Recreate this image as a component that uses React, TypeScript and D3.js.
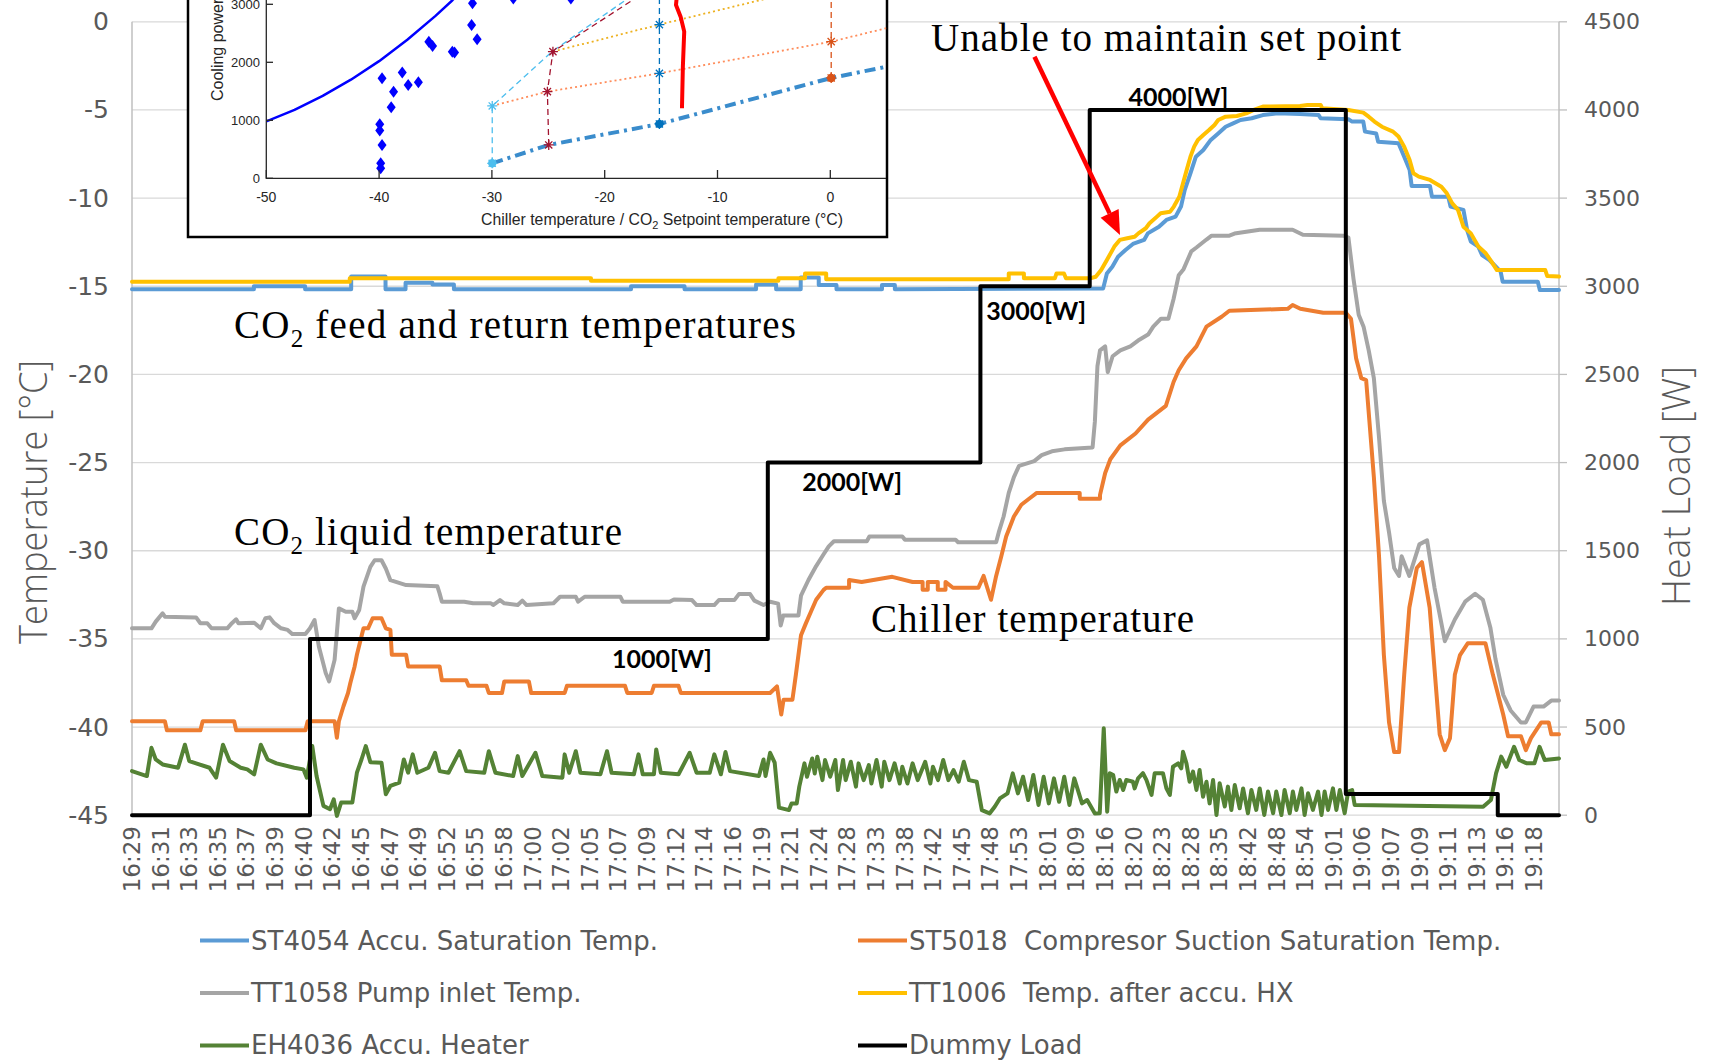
import { useEffect, useRef } from "react";
import * as d3 from "d3";

const W = 1711;
const H = 1063;

// category axis labels (every n-th sample)
const timeLabels = [
  "16:29", "16:31", "16:33", "16:35", "16:37", "16:39", "16:40", "16:42", "16:45", "16:47",
  "16:49", "16:52", "16:55", "16:58", "17:00", "17:02", "17:05", "17:07", "17:09", "17:12",
  "17:14", "17:16", "17:19", "17:21", "17:24", "17:28", "17:33", "17:38", "17:42", "17:45",
  "17:48", "17:53", "18:01", "18:09", "18:16", "18:20", "18:23", "18:28", "18:35", "18:42",
  "18:48", "18:54", "19:01", "19:06", "19:07", "19:09", "19:11", "19:13", "19:16", "19:18",
];
const lastPos = 49.87; // end of category axis, in label units

const tempTicks = [0, -5, -10, -15, -20, -25, -30, -35, -40, -45];
const loadTicks = [0, 500, 1000, 1500, 2000, 2500, 3000, 3500, 4000, 4500];

// [position on time axis (label units), value]
const accuSatTemp = [
  [0, -15.17], [4.26, -15.17], [4.26, -15.0], [6.05, -15.0], [6.05, -15.17], [7.66, -15.17], [7.66, -14.45],
  [8.86, -14.45], [8.86, -15.17], [9.56, -15.17], [9.56, -14.8], [10.5, -14.8], [10.5, -14.9], [11.25, -14.9],
  [11.25, -15.17], [17.44, -15.17], [17.44, -15.0], [19.31, -15.0], [19.31, -15.17], [21.81, -15.17],
  [21.81, -14.9], [22.51, -14.9], [22.51, -15.17], [23.37, -15.17], [23.37, -14.5], [24.0, -14.5],
  [24.0, -14.93], [24.62, -14.93], [24.62, -15.17], [26.21, -15.17], [26.21, -14.93], [26.66, -14.93],
  [26.66, -15.17], [33.94, -15.12], [34.07, -14.27], [34.26, -13.89], [34.46, -13.32], [34.72, -12.94],
  [34.98, -12.6], [35.37, -12.37], [35.5, -12.0], [35.89, -11.62], [36.15, -11.24], [36.47, -11.05],
  [36.66, -10.48], [36.79, -9.54], [36.99, -8.59], [37.18, -7.65], [37.44, -7.27], [37.7, -6.7],
  [37.96, -6.33], [38.22, -5.95], [38.48, -5.76], [38.74, -5.57], [39.13, -5.47], [39.52, -5.29],
  [40.04, -5.19], [40.82, -5.23], [41.47, -5.29], [41.54, -5.47], [42.51, -5.53], [42.64, -5.66],
  [43.03, -5.66], [43.09, -6.23], [43.48, -6.33], [43.55, -6.8], [44.26, -6.89], [44.46, -7.65],
  [44.65, -8.4], [44.72, -9.31], [45.36, -9.31], [45.43, -9.92], [46.0, -9.92], [46.08, -10.48],
  [46.53, -10.67], [46.66, -11.81], [46.79, -12.47], [47.05, -12.75], [47.18, -13.23], [47.44, -13.51],
  [47.83, -14.17], [47.9, -14.74], [49.13, -14.74], [49.2, -15.21], [49.87, -15.21],
];

const suctionSatTemp = [
  [0, -39.67], [1.15, -39.67], [1.22, -40.18], [2.39, -40.18], [2.47, -39.67], [3.57, -39.67], [3.64, -40.18],
  [6.06, -40.18], [6.14, -39.67], [7.08, -39.67], [7.16, -40.61], [7.23, -39.67], [7.39, -38.82], [7.55, -38.07],
  [7.63, -37.5], [7.78, -36.56], [7.86, -35.9], [8.09, -34.4], [8.25, -34.4], [8.41, -33.83], [8.72, -33.83],
  [8.87, -34.4], [9.03, -34.49], [9.08, -35.9], [9.58, -35.9], [9.65, -36.56], [10.75, -36.56], [10.83, -37.35],
  [11.68, -37.35], [11.76, -37.66], [12.39, -37.66], [12.47, -38.07], [12.93, -38.07], [13.01, -37.41],
  [13.87, -37.41], [13.95, -38.07], [15.12, -38.07], [15.2, -37.66], [17.23, -37.66], [17.31, -38.07],
  [18.16, -38.07], [18.24, -37.66], [19.1, -37.66], [19.18, -38.07], [22.3, -38.07], [22.54, -37.69],
  [22.61, -38.45], [22.69, -39.29], [22.77, -38.45], [23.08, -38.45], [23.2, -37.04], [23.38, -34.8],
  [23.55, -34.12], [23.73, -33.45], [23.91, -32.78], [24.17, -32.22], [24.26, -32.1], [25.06, -32.1],
  [25.06, -31.66], [25.5, -31.77], [26.57, -31.48], [27.28, -31.77], [27.63, -31.77], [27.63, -32.22],
  [27.81, -32.22], [27.81, -31.77], [28.16, -31.77], [28.16, -32.22], [28.43, -32.22], [28.43, -31.77],
  [28.69, -32.1], [29.58, -32.1], [29.76, -31.43], [30.02, -32.78], [30.2, -31.43], [30.38, -30.31],
  [30.55, -29.19], [30.82, -28.06], [31.08, -27.39], [31.35, -27.05], [31.62, -26.72], [33.12, -26.72],
  [33.12, -27.05], [33.83, -27.05], [33.83, -26.83], [34.01, -25.59], [34.19, -24.81], [34.54, -24.02],
  [35.07, -23.35], [35.51, -22.56], [36.13, -21.78], [36.4, -20.43], [36.58, -19.76], [36.84, -19.09],
  [37.2, -18.41], [37.55, -17.29], [38.08, -16.73], [38.35, -16.39], [40.39, -16.28], [40.56, -16.06],
  [40.83, -16.28], [41.63, -16.5], [42.42, -16.5], [42.6, -16.84], [42.78, -19.09], [42.96, -20.21],
  [43.13, -20.32], [43.4, -25.82], [43.58, -30.31], [43.75, -35.92], [43.93, -39.74], [44.11, -41.42],
  [44.28, -41.42], [44.46, -37.04], [44.64, -33.23], [44.9, -30.98], [45.08, -30.65], [45.35, -33.23],
  [45.7, -40.41], [45.88, -41.31], [46.06, -40.63], [46.23, -37.04], [46.41, -35.92], [46.68, -35.25],
  [47.3, -35.25], [47.56, -37.04], [47.92, -39.29], [48.09, -40.52], [48.54, -40.52], [48.71, -41.31],
  [48.89, -40.63], [49.25, -39.74], [49.51, -39.74], [49.6, -40.41], [49.87, -40.41],
];

const pumpInletTemp = [
  [0, -34.4], [0.68, -34.4], [0.83, -34.02], [1.07, -33.55], [1.15, -33.74], [2.24, -33.78], [2.39, -34.11],
  [2.63, -34.11], [2.78, -34.4], [3.33, -34.4], [3.49, -34.11], [3.64, -33.89], [3.72, -34.11], [4.27, -34.08],
  [4.5, -34.4], [4.66, -33.83], [4.81, -33.78], [4.97, -34.11], [5.21, -34.4], [5.44, -34.49], [5.6, -34.72],
  [6.06, -34.72], [6.22, -34.4], [6.38, -33.93], [6.53, -35.43], [6.77, -36.94], [6.89, -37.41], [7.08, -36.19],
  [7.23, -33.27], [7.47, -33.46], [7.7, -33.46], [7.78, -33.83], [7.94, -33.36], [8.09, -32.04], [8.33, -30.91],
  [8.48, -30.54], [8.72, -30.54], [8.87, -31.01], [9.03, -31.67], [9.58, -31.95], [10.67, -32.01],
  [10.75, -32.42], [10.83, -32.89], [11.61, -32.89], [11.92, -32.98], [12.54, -32.98], [12.62, -33.08],
  [12.86, -32.8], [13.01, -32.98], [13.48, -33.08], [13.64, -32.83], [13.79, -33.08], [14.73, -32.98],
  [14.96, -32.61], [15.51, -32.61], [15.59, -32.89], [15.82, -32.61], [17.07, -32.61], [17.15, -32.89],
  [18.79, -32.89], [18.94, -32.76], [19.57, -32.8], [19.73, -33.08], [20.35, -33.08], [20.51, -32.8],
  [21.05, -32.8], [21.21, -32.46], [21.6, -32.46], [21.75, -32.83], [22.07, -33.08], [22.3, -32.89],
  [22.58, -33.0], [22.67, -34.24], [22.76, -33.68], [23.29, -33.68], [23.38, -32.55], [23.64, -31.66],
  [23.91, -30.87], [24.17, -30.2], [24.35, -29.75], [24.53, -29.46], [25.68, -29.46], [25.77, -29.19],
  [26.92, -29.19], [27.01, -29.37], [28.78, -29.37], [28.87, -29.52], [30.2, -29.52], [30.29, -28.96],
  [30.46, -28.06], [30.64, -26.72], [30.82, -25.82], [31.0, -25.19], [31.53, -24.92], [31.79, -24.58],
  [32.15, -24.36], [32.59, -24.25], [33.57, -24.14], [33.65, -22.68], [33.74, -19.53], [33.83, -18.64],
  [34.01, -18.41], [34.1, -19.87], [34.27, -18.97], [34.54, -18.64], [34.89, -18.41], [35.16, -18.08],
  [35.51, -17.74], [35.69, -17.29], [35.96, -16.84], [36.22, -16.84], [36.4, -15.72], [36.58, -14.37],
  [36.75, -14.03], [37.02, -13.02], [37.2, -12.8], [37.55, -12.35], [37.73, -12.13], [38.35, -12.13],
  [38.53, -12.01], [39.41, -11.79], [40.56, -11.79], [40.92, -12.08], [42.34, -12.13], [42.51, -12.24],
  [42.69, -14.6], [42.87, -16.62], [43.04, -17.29], [43.22, -18.64], [43.4, -20.21], [43.58, -23.57],
  [43.75, -27.17], [43.93, -28.96], [44.11, -30.98], [44.28, -31.43], [44.37, -30.31], [44.64, -31.43],
  [44.99, -29.64], [45.26, -29.41], [45.52, -32.1], [45.88, -35.13], [46.23, -33.9], [46.59, -32.89],
  [46.94, -32.44], [47.21, -32.78], [47.47, -34.35], [47.65, -36.14], [47.92, -38.17], [48.18, -39.06],
  [48.54, -39.74], [48.71, -39.74], [48.98, -38.84], [49.33, -38.84], [49.6, -38.5], [49.87, -38.5],
];

const afterHxTemp = [
  [0, -14.74], [7.61, -14.74], [7.61, -14.55], [16.04, -14.55], [16.04, -14.68], [22.59, -14.68], [22.59, -14.55],
  [23.52, -14.55], [23.52, -14.27], [24.26, -14.27], [24.26, -14.6], [30.64, -14.6], [30.64, -14.27],
  [31.17, -14.27], [31.17, -14.55], [32.25, -14.55], [32.31, -14.27], [32.57, -14.27], [32.64, -14.55],
  [33.48, -14.55], [33.68, -14.46], [33.87, -14.08], [34.07, -13.51], [34.33, -12.75], [34.52, -12.37],
  [34.78, -12.28], [35.04, -12.19], [35.17, -12.0], [35.43, -11.71], [35.56, -11.43], [35.82, -11.05],
  [35.95, -10.86], [36.28, -10.77], [36.41, -10.48], [36.6, -9.92], [36.73, -9.16], [36.86, -8.4],
  [36.99, -7.65], [37.12, -7.08], [37.25, -6.7], [37.44, -6.42], [37.64, -6.14], [37.83, -5.85],
  [37.96, -5.57], [38.22, -5.38], [38.61, -5.34], [38.94, -5.19], [39.2, -5.0], [39.52, -4.81],
  [40.82, -4.78], [41.08, -4.72], [41.54, -4.72], [41.6, -4.91], [42.51, -5.0], [43.03, -5.15],
  [43.22, -5.38], [43.42, -5.66], [43.68, -5.95], [44.07, -6.23], [44.26, -6.51], [44.46, -7.08],
  [44.65, -7.84], [44.78, -8.59], [44.97, -8.78], [45.36, -8.97], [45.76, -9.35], [45.95, -9.73],
  [46.14, -10.3], [46.34, -10.67], [46.53, -11.62], [46.79, -12.0], [47.05, -12.75], [47.31, -13.13],
  [47.51, -13.6], [47.7, -14.08], [49.39, -14.08], [49.46, -14.42], [49.87, -14.45],
];

const accuHeater = [
  [0, -42.5], [0.52, -42.78], [0.68, -41.18], [0.83, -41.84], [1.07, -42.12], [1.61, -42.31], [1.85, -41.0],
  [2.0, -41.93], [2.24, -42.06], [2.71, -42.31], [2.94, -42.87], [3.18, -41.0], [3.41, -41.93], [3.8, -42.31],
  [4.03, -42.4], [4.27, -42.68], [4.5, -41.0], [4.74, -41.84], [5.05, -42.06], [5.67, -42.31], [5.99, -42.4],
  [6.11, -42.87], [6.3, -41.08], [6.45, -42.78], [6.69, -44.47], [6.92, -44.66], [7.05, -44.1], [7.16, -45.04],
  [7.31, -44.28], [7.7, -44.28], [7.86, -42.59], [8.02, -41.84], [8.17, -41.08], [8.33, -41.99], [8.72, -42.02],
  [8.87, -43.81], [9.03, -43.34], [9.34, -43.15], [9.5, -41.84], [9.65, -42.59], [9.81, -41.55], [9.97, -42.59],
  [10.36, -42.31], [10.59, -41.46], [10.75, -42.5], [11.06, -42.59], [11.45, -41.37], [11.68, -42.5],
  [12.31, -42.59], [12.47, -41.37], [12.7, -42.59], [13.32, -42.78], [13.48, -41.65], [13.64, -42.78],
  [14.1, -41.46], [14.34, -42.78], [15.04, -42.87], [15.12, -41.55], [15.28, -42.59], [15.51, -41.37],
  [15.67, -42.59], [16.37, -42.68], [16.6, -41.37], [16.76, -42.59], [17.54, -42.68], [17.7, -41.55],
  [17.85, -42.68], [18.24, -42.68], [18.32, -41.27], [18.48, -42.59], [19.1, -42.68], [19.49, -41.46],
  [19.73, -42.59], [20.19, -42.59], [20.35, -41.55], [20.58, -42.68], [20.74, -41.42], [20.9, -42.5],
  [21.91, -42.78], [22.07, -41.84], [22.14, -42.78], [22.3, -41.46], [22.46, -42.02], [22.61, -44.57],
  [22.96, -44.71], [23.05, -44.33], [23.23, -44.33], [23.32, -43.38], [23.5, -42.06], [23.59, -42.82],
  [23.77, -41.78], [23.86, -42.63], [23.95, -41.68], [24.13, -43.01], [24.22, -41.87], [24.4, -42.82],
  [24.58, -41.87], [24.67, -43.57], [24.85, -41.87], [24.94, -43.01], [25.12, -41.97], [25.3, -43.38],
  [25.39, -42.06], [25.57, -43.01], [25.75, -42.16], [25.84, -43.2], [26.02, -41.87], [26.2, -43.38],
  [26.29, -41.97], [26.47, -43.01], [26.65, -42.06], [26.83, -43.2], [26.92, -42.25], [27.1, -43.2],
  [27.28, -42.06], [27.46, -43.01], [27.72, -41.97], [27.9, -43.2], [27.99, -42.25], [28.17, -43.01],
  [28.35, -41.87], [28.53, -43.01], [28.71, -42.44], [28.89, -43.1], [29.07, -41.97], [29.25, -43.01],
  [29.52, -43.1], [29.7, -44.71], [29.97, -44.9], [30.15, -44.52], [30.33, -44.05], [30.6, -43.76],
  [30.78, -42.63], [30.96, -43.76], [31.14, -42.82], [31.32, -44.14], [31.5, -42.72], [31.68, -44.42],
  [31.86, -42.82], [32.04, -44.33], [32.22, -42.91], [32.4, -44.24], [32.58, -42.82], [32.76, -44.42],
  [32.93, -42.91], [33.2, -44.33], [33.38, -44.14], [33.65, -44.9], [33.82, -44.89], [33.96, -40.07],
  [34.08, -44.8], [34.17, -42.62], [34.29, -42.72], [34.4, -43.66], [34.52, -43.0], [34.64, -43.57],
  [34.75, -43.0], [34.98, -43.1], [35.04, -43.48], [35.16, -42.91], [35.33, -42.62], [35.45, -43.0],
  [35.63, -43.85], [35.74, -42.62], [36.03, -42.62], [36.15, -43.48], [36.27, -43.85], [36.38, -42.25],
  [36.56, -42.06], [36.67, -42.34], [36.73, -41.4], [36.85, -42.06], [36.96, -43.1], [37.08, -42.53],
  [37.2, -43.57], [37.31, -42.44], [37.43, -43.95], [37.55, -43.1], [37.66, -44.33], [37.78, -43.0],
  [37.9, -44.99], [38.01, -43.19], [38.19, -44.51], [38.3, -43.38], [38.42, -44.7], [38.54, -43.29],
  [38.71, -44.61], [38.83, -43.48], [39.0, -44.89], [39.12, -43.57], [39.29, -44.7], [39.41, -43.48],
  [39.57, -44.99], [39.7, -43.66], [39.88, -44.89], [39.99, -43.66], [40.17, -44.99], [40.28, -43.57],
  [40.46, -44.89], [40.57, -43.66], [40.69, -44.7], [40.87, -43.48], [40.98, -44.99], [41.1, -43.76],
  [41.27, -44.7], [41.45, -43.66], [41.57, -44.99], [41.68, -43.66], [41.8, -44.7], [41.97, -43.48],
  [42.09, -44.7], [42.21, -43.57], [42.38, -44.89], [42.5, -43.66], [42.64, -43.57], [42.73, -44.42],
  [47.22, -44.52], [47.49, -44.14], [47.67, -42.63], [47.85, -41.68], [48.03, -42.25], [48.3, -41.12],
  [48.48, -41.87], [48.75, -42.06], [49.01, -42.06], [49.19, -41.12], [49.37, -41.87], [49.87, -41.78],
];

// secondary axis, W
const dummyLoad = [
  [0, 0], [6.22, 0], [6.22, 1000], [22.22, 1000], [22.22, 2000], [29.65, 2000], [29.65, 3000],
  [33.47, 3000], [33.47, 4000], [42.42, 4000], [42.42, 120], [47.73, 120], [47.73, 0], [49.87, 0],
];

const loadLabels = [
  { text: "1000[W]", pos: 18.52, load: 892 },
  { text: "2000[W]", pos: 25.17, load: 1896 },
  { text: "3000[W]", pos: 31.6, load: 2866 },
  { text: "4000[W]", pos: 36.57, load: 4079 },
];

const legendItems = [
  { label: "ST4054 Accu. Saturation Temp.", color: "#5b9bd5" },
  { label: "ST5018  Compresor Suction Saturation Temp.", color: "#ed7d31" },
  { label: "TT1058 Pump inlet Temp.", color: "#a5a5a5" },
  { label: "TT1006  Temp. after accu. HX", color: "#ffc000" },
  { label: "EH4036 Accu. Heater", color: "#548235" },
  { label: "Dummy Load", color: "#000000" },
];

// inset: cooling power (W) vs chiller / setpoint temperature (°C)
const insetXTicks = [-50, -40, -30, -20, -10, 0];
const insetYTicks = [0, 1000, 2000, 3000];
const capacityCurve = [[-50, 980], [-47.5, 1180], [-45, 1420], [-42.5, 1700], [-40, 2020], [-37.5, 2390], [-35, 2800], [-33.5, 3070], [-32, 3380], [-31, 3600]];
const measuredPoints = [
  [-39.86, 172], [-39.86, 259], [-39.74, 575], [-39.94, 822], [-39.94, 931], [-39.74, 1724], [-38.93, 1224],
  [-38.72, 1494], [-37.95, 1822], [-37.42, 1609], [-36.52, 1655], [-35.59, 2356], [-35.26, 2282], [-33.51, 2184],
  [-33.31, 2167], [-31.8, 2644], [-31.31, 2397], [-31.72, 3017], [-31.5, 3260], [-28.1, 3100], [-23.0, 3100],
];
const setpoint30 = [[-29.97, 259], [-29.97, 1247], [-24.67, 2184], [-17.0, 3230]];
const setpoint25 = [[-24.96, 575], [-25.08, 1494], [-24.59, 2184], [-16.5, 3200]];
const setpoint15 = [[-15.15, 937], [-15.15, 3300]];
const setpoint0 = [[0.08, 1730], [0.08, 3300]];
const load3kW = [[-24.59, 2184], [-15.15, 2650], [-3.5, 3200]];
const load2kW = [[-29.97, 1247], [-25.08, 1494], [-15.15, 1810], [0.08, 2356], [5, 2590]];
const load1kW = [[-29.97, 259], [-24.96, 575], [-15.15, 937], [0.08, 1730], [5, 1925]];
const limitLine = [[-13.15, 1207], [-13.07, 1925], [-12.95, 2529], [-13.27, 2787], [-13.68, 2989], [-13.6, 3150]];
const starsLightBlue = [[-29.97, 1247], [-29.97, 259]];
const starsDarkRed = [[-24.96, 575], [-25.08, 1494], [-24.59, 2184]];
const starsBlue = [[-15.15, 937], [-15.15, 1810], [-15.15, 2650]];
const starsOrange = [[0.08, 1730], [0.08, 2356]];
const dotsInset = [[-29.97, 259, "#4dbeee"], [-15.15, 937, "#0072bd"], [0.08, 1730, "#d95319"]];

const App = () => {
  const ref = useRef(null);

  useEffect(() => {
    const svg = d3.select(ref.current);
    svg.selectAll("*").remove();

    const x = d3.scaleLinear().domain([0, lastPos]).range([132, 1559]);
    const yT = d3.scaleLinear().domain([-45, 0]).range([815.2, 21.8]);
    const yW = d3.scaleLinear().domain([0, 4500]).range([815.2, 21.8]);

    svg.append("rect").attr("width", W).attr("height", H).attr("fill", "#fff");

    // gridlines
    svg.append("g")
      .selectAll("line")
      .data(tempTicks)
      .join("line")
      .attr("x1", 132).attr("x2", 1559)
      .attr("y1", (d) => yT(d)).attr("y2", (d) => yT(d))
      .attr("stroke", "#d9d9d9").attr("stroke-width", 1.3);

    svg.append("line").attr("x1", 132).attr("x2", 132).attr("y1", 21.8).attr("y2", 815.2)
      .attr("stroke", "#bfbfbf").attr("stroke-width", 1.5);
    svg.append("line").attr("x1", 1559).attr("x2", 1559).attr("y1", 21.8).attr("y2", 815.2)
      .attr("stroke", "#bfbfbf").attr("stroke-width", 1.5);
    svg.append("g").selectAll("line").data(loadTicks).join("line")
      .attr("x1", 1559).attr("x2", 1567).attr("y1", (d) => yW(d)).attr("y2", (d) => yW(d))
      .attr("stroke", "#bfbfbf").attr("stroke-width", 1.3);

    const tickFont = "'DejaVu Sans', Verdana, sans-serif";
    svg.append("g").selectAll("text").data(tempTicks).join("text")
      .attr("x", 109).attr("y", (d) => yT(d))
      .attr("text-anchor", "end").attr("dominant-baseline", "central")
      .attr("font-family", tickFont).attr("font-size", 25).attr("fill", "#595959")
      .text((d) => d);
    svg.append("g").selectAll("text").data(loadTicks).join("text")
      .attr("x", 1584).attr("y", (d) => yW(d))
      .attr("dominant-baseline", "central")
      .attr("font-family", tickFont).attr("font-size", 22).attr("fill", "#595959")
      .text((d) => d);
    svg.append("g").selectAll("text").data(timeLabels).join("text")
      .attr("transform", (d, i) => `translate(${x(i)},826) rotate(-90)`)
      .attr("text-anchor", "end").attr("dominant-baseline", "central")
      .attr("font-family", tickFont).attr("font-size", 23).attr("fill", "#595959")
      .text((d) => d);

    const titleFont = "'Open Sans', sans-serif";
    svg.append("text")
      .attr("transform", "translate(47,502) rotate(-90)")
      .attr("text-anchor", "middle")
      .attr("font-family", titleFont).attr("font-weight", 300).attr("font-size", 38).attr("fill", "#595959")
      .attr("textLength", 284).attr("lengthAdjust", "spacingAndGlyphs")
      .text("Temperature [°C]");
    svg.append("text")
      .attr("transform", "translate(1690,486) rotate(-90)")
      .attr("text-anchor", "middle")
      .attr("font-family", titleFont).attr("font-weight", 300).attr("font-size", 38).attr("fill", "#595959")
      .attr("textLength", 240).attr("lengthAdjust", "spacingAndGlyphs")
      .text("Heat Load [W]");

    // ---- inset figure ----
    const xi = d3.scaleLinear().domain([-50, 5]).range([266.3, 886.7]);
    const yi = d3.scaleLinear().domain([0, 3000]).range([178.3, 4.3]);
    const inset = svg.append("g");
    inset.append("rect").attr("x", 188).attr("y", -20).attr("width", 699).attr("height", 257)
      .attr("fill", "#fff").attr("stroke", "#000").attr("stroke-width", 2.5);
    svg.append("clipPath").attr("id", "insetClip").append("rect")
      .attr("x", 266.3).attr("y", -20).attr("width", 620).attr("height", 198.3);
    const plotI = inset.append("g").attr("clip-path", "url(#insetClip)");
    const lineI = d3.line().x((d) => xi(d[0])).y((d) => yi(d[1]));
    const insetPath = (data, color, width, dash) =>
      plotI.append("path").attr("d", lineI(data)).attr("fill", "none")
        .attr("stroke", color).attr("stroke-width", width)
        .attr("stroke-dasharray", dash).attr("stroke-linejoin", "round");

    insetPath(capacityCurve, "#0000ff", 2.5, null);
    insetPath(setpoint30, "#4dbeee", 1.3, "6,4");
    insetPath(setpoint25, "#a2142f", 1.3, "6,4");
    insetPath(setpoint15, "#0072bd", 1.3, "6,4");
    insetPath(setpoint0, "#d95319", 1.3, "6,4");
    insetPath(load3kW, "#edb120", 1.8, "2,3");
    insetPath(load2kW, "#ff8c5a", 1.8, "2,3");
    insetPath(load1kW, "#3a8ccc", 4, "11,5,3,5");
    insetPath(limitLine, "#ff0000", 4, null);

    plotI.append("g").selectAll("path").data(measuredPoints).join("path")
      .attr("transform", (d) => `translate(${xi(d[0])},${yi(d[1])})`)
      .attr("d", "M0,-6L4.5,0L0,6L-4.5,0Z").attr("fill", "#0000ff");

    const star = "M0,-5V5M-5,0H5M-3.6,-3.6L3.6,3.6M-3.6,3.6L3.6,-3.6";
    plotI.append("g").selectAll("circle").data(dotsInset).join("circle")
      .attr("cx", (d) => xi(d[0])).attr("cy", (d) => yi(d[1])).attr("r", 4.2)
      .attr("fill", (d) => d[2]);
    const stars = (data, color) =>
      plotI.append("g").selectAll("path").data(data).join("path")
        .attr("transform", (d) => `translate(${xi(d[0])},${yi(d[1])})`)
        .attr("d", star).attr("stroke", color).attr("stroke-width", 1.3).attr("fill", "none");
    stars(starsLightBlue, "#4dbeee");
    stars(starsDarkRed, "#a2142f");
    stars(starsBlue, "#0072bd");
    stars(starsOrange, "#d95319");

    inset.append("path").attr("d", `M266.3,-20V178.3H886`).attr("fill", "none")
      .attr("stroke", "#262626").attr("stroke-width", 1.3);
    inset.append("g").selectAll("line").data(insetXTicks).join("line")
      .attr("x1", (d) => xi(d)).attr("x2", (d) => xi(d)).attr("y1", 178.3).attr("y2", 170)
      .attr("stroke", "#262626").attr("stroke-width", 1.3);
    inset.append("g").selectAll("line").data(insetYTicks).join("line")
      .attr("x1", 266.3).attr("x2", 273).attr("y1", (d) => yi(d)).attr("y2", (d) => yi(d))
      .attr("stroke", "#262626").attr("stroke-width", 1.3);
    const insetFont = "'Liberation Sans', Arial, sans-serif";
    inset.append("g").selectAll("text").data(insetXTicks).join("text")
      .attr("x", (d) => xi(d)).attr("y", 202).attr("text-anchor", "middle")
      .attr("font-family", insetFont).attr("font-size", 14).attr("fill", "#262626")
      .text((d) => d);
    inset.append("g").selectAll("text").data(insetYTicks).join("text")
      .attr("x", 260).attr("y", (d) => yi(d)).attr("text-anchor", "end").attr("dominant-baseline", "central")
      .attr("font-family", insetFont).attr("font-size", 13).attr("fill", "#262626")
      .text((d) => d);
    const xt = inset.append("text").attr("x", 662).attr("y", 225).attr("text-anchor", "middle")
      .attr("font-family", insetFont).attr("font-size", 15.8).attr("fill", "#262626");
    xt.append("tspan").text("Chiller temperature / CO");
    xt.append("tspan").attr("font-size", 11).attr("dy", 4).text("2");
    xt.append("tspan").attr("dy", -4).text(" Setpoint temperature (°C)");
    inset.append("text").attr("transform", "translate(223,101) rotate(-90)")
      .attr("font-family", insetFont).attr("font-size", 16).attr("fill", "#262626")
      .text("Cooling power (W)");

    // ---- series ----
    const lineT = d3.line().x((d) => x(d[0])).y((d) => yT(d[1]));
    const lineW = d3.line().x((d) => x(d[0])).y((d) => yW(d[1]));
    const series = [
      [accuSatTemp, "#5b9bd5", lineT],
      [suctionSatTemp, "#ed7d31", lineT],
      [pumpInletTemp, "#a5a5a5", lineT],
      [afterHxTemp, "#ffc000", lineT],
      [accuHeater, "#548235", lineT],
      [dummyLoad, "#000000", lineW],
    ];
    series.forEach(([data, color, gen]) => {
      svg.append("path").attr("d", gen(data)).attr("fill", "none")
        .attr("stroke", color).attr("stroke-width", 4)
        .attr("stroke-linejoin", "round").attr("stroke-linecap", "round");
    });

    // ---- annotations ----
    svg.append("g").selectAll("text").data(loadLabels).join("text")
      .attr("x", (d) => x(d.pos)).attr("y", (d) => yW(d.load))
      .attr("text-anchor", "middle").attr("dominant-baseline", "central")
      .attr("font-family", "Lato, 'Open Sans', sans-serif").attr("font-weight", 700)
      .attr("font-size", 25).attr("fill", "#000")
      .text((d) => d.text);

    const serif = "'Liberation Serif', 'Times New Roman', serif";
    const co2Label = (px, py, rest, len) => {
      const t = svg.append("text").attr("x", px).attr("y", py)
        .attr("font-family", serif).attr("font-size", 39).attr("fill", "#000");
      t.append("tspan").text("CO");
      t.append("tspan").attr("font-size", 25).attr("dy", 9).text("2");
      t.append("tspan").attr("dy", -9).text(rest);
      t.attr("textLength", len).attr("lengthAdjust", "spacing");
    };
    co2Label(234, 338, " feed and return temperatures", 562);
    co2Label(234, 545, " liquid temperature", 388);
    svg.append("text").attr("x", 871).attr("y", 632).attr("font-family", serif).attr("font-size", 39)
      .attr("textLength", 323).attr("lengthAdjust", "spacing").text("Chiller temperature");
    svg.append("text").attr("x", 931).attr("y", 51).attr("font-family", serif).attr("font-size", 39)
      .attr("textLength", 470).attr("lengthAdjust", "spacing").text("Unable to maintain set point");

    const a0 = [1034.5, 56.7];
    const a1 = [1120, 235];
    const len = Math.hypot(a1[0] - a0[0], a1[1] - a0[1]);
    const ux = (a1[0] - a0[0]) / len, uy = (a1[1] - a0[1]) / len;
    const bx = a1[0] - ux * 24, by = a1[1] - uy * 24;
    svg.append("line").attr("x1", a0[0]).attr("y1", a0[1]).attr("x2", bx).attr("y2", by)
      .attr("stroke", "#ff0000").attr("stroke-width", 4.5);
    svg.append("path")
      .attr("d", `M${a1[0]},${a1[1]}L${bx - uy * 10},${by + ux * 10}L${bx + uy * 10},${by - ux * 10}Z`)
      .attr("fill", "#ff0000");

    // ---- legend ----
    const legend = svg.append("g").selectAll("g").data(legendItems).join("g")
      .attr("transform", (d, i) => `translate(${i % 2 === 0 ? 200 : 858},${940.6 + Math.floor(i / 2) * 52.4})`);
    legend.append("line").attr("x1", 0).attr("x2", 49).attr("stroke", (d) => d.color).attr("stroke-width", 4);
    legend.append("text").attr("x", 51).attr("dominant-baseline", "central")
      .attr("font-family", tickFont).attr("font-size", 26).attr("fill", "#595959")
      .style("white-space", "pre")
      .text((d) => d.label);
  }, []);

  return (
    <svg ref={ref} width={W} height={H} style={{ position: "absolute", left: 0, top: 0 }} />
  );
};

export default App;
